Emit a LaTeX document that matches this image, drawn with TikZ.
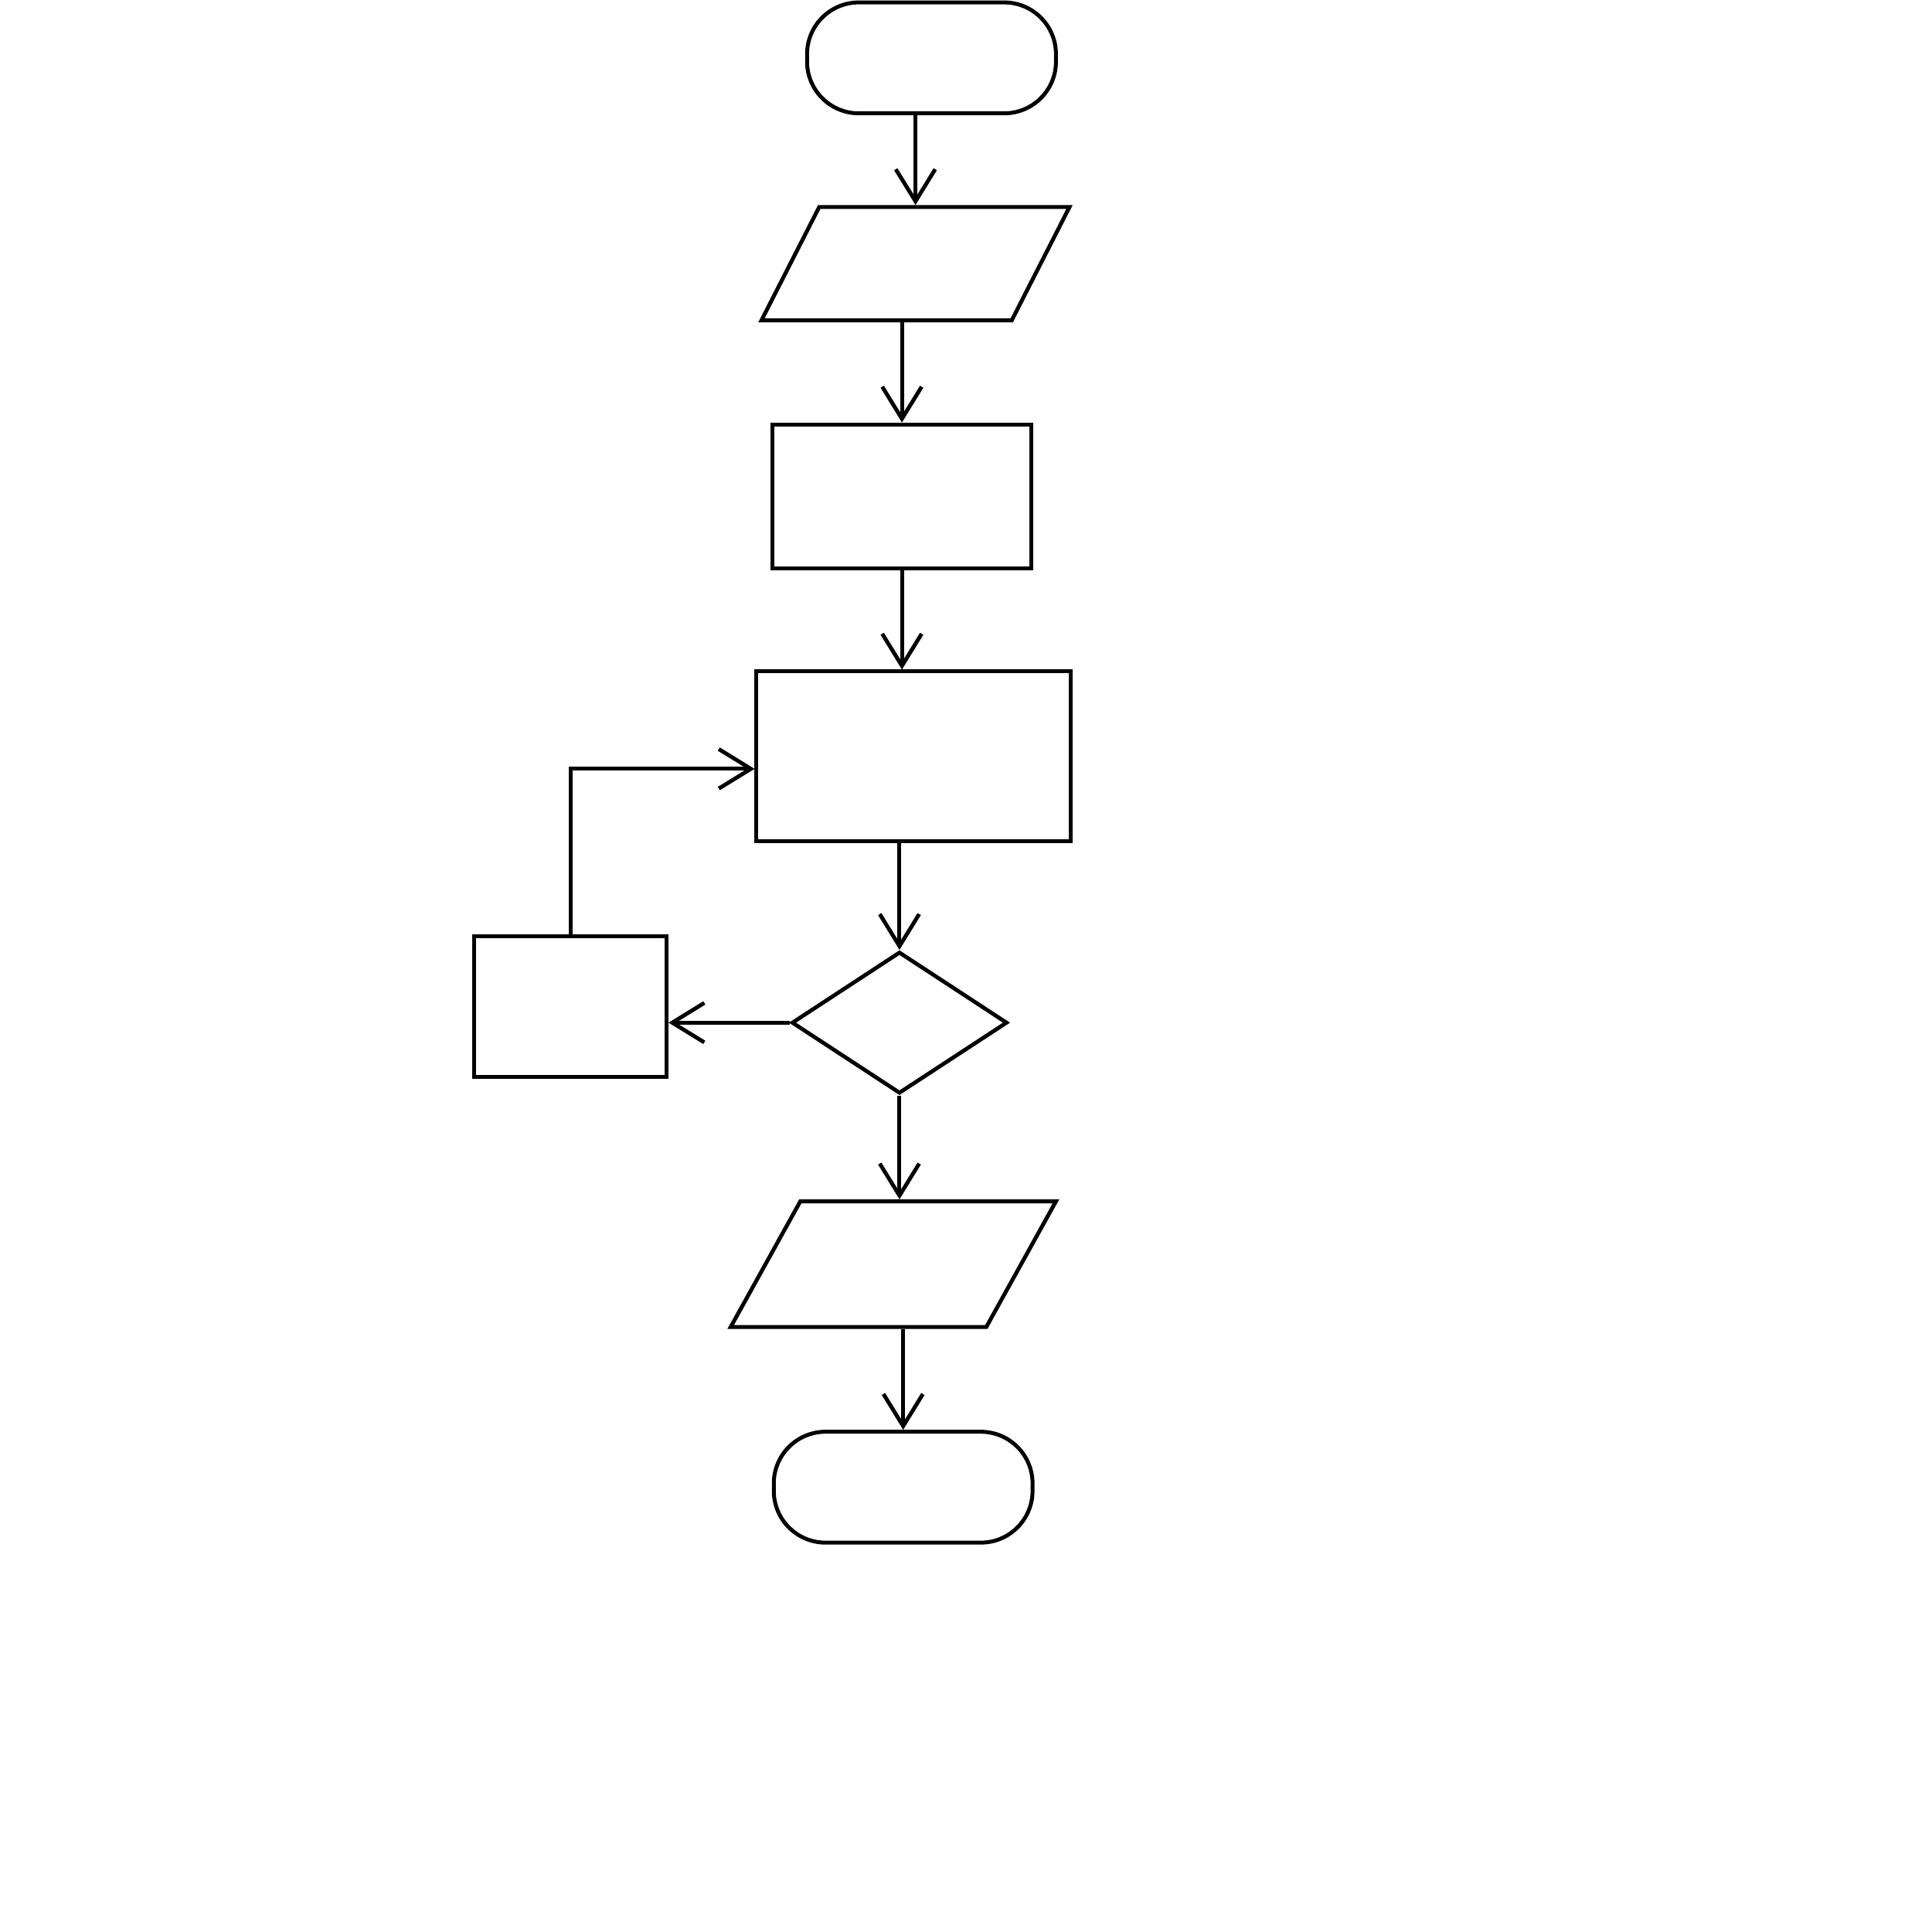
\documentclass[tikz,border=0pt]{standalone}
\usepackage{tikz}
\usetikzlibrary{shapes.geometric, arrows.meta, positioning, calc}
\tikzset{
	startstop/.style={rectangle, rounded corners=0.42cm, minimum width=2.05cm, minimum height=0.9cm, draw=black, inner sep=0pt},
	io/.style       ={trapezium, trapezium left angle=63, trapezium right angle=117, trapezium stretches body, text height=0.92cm, text depth=0pt, draw=black, inner sep=0pt},
	process/.style  ={rectangle, draw=black, inner sep=0pt},
	decision/.style ={diamond, minimum width=1.75cm, minimum height=1.15cm, draw=black, inner sep=0pt},
	flowarrow/.style={-{Straight Barb[length=2.6mm, width=3.2mm]}},
}
\begin{document}
\begin{tikzpicture}[line width=0.9pt]
					\useasboundingbox (0,0) rectangle (15.68,15.68);
					\node[startstop, minimum width=2.02cm] (st) at (7.56,15.21) {};
					\node[io, minimum width=2.5cm] (in) at (7.43,13.54) {};
					\node[process, minimum width=2.1cm, minimum height=1.17cm] (a) at (7.32,11.65) {};
					\node[process, minimum width=2.55cm, minimum height=1.38cm] (b) at (7.415,9.54) {};
					\node[decision] (c) at (7.30,7.38) {};
					\node[process, minimum width=1.56cm, minimum height=1.14cm] (inc) at (4.63,7.51) {};
					\node[io, minimum width=2.64cm, text height=1.02cm, trapezium left angle=61, trapezium right angle=119] (out) at (7.25,5.42) {};
					\node[startstop, minimum width=2.1cm] (en) at (7.33,3.61) {};
					\draw[flowarrow] (in |- st.south) -- (in.north); \draw[flowarrow] (a |- in.south) -- (a.north);
					\draw[flowarrow] (a.south) -- (a.south |- b.north);
					\draw[flowarrow] (c |- b.south) -- (c.north);
					\draw[flowarrow] (c.west) -- (c.west -| inc.east);
					\draw[flowarrow] (inc) |- ([yshift=-1mm]b.west);
					\draw[flowarrow] (c.south) -- (c.south |- out.north); \draw[flowarrow] (en |- out.south) -- (en.north);
				\end{tikzpicture}
\end{document}
